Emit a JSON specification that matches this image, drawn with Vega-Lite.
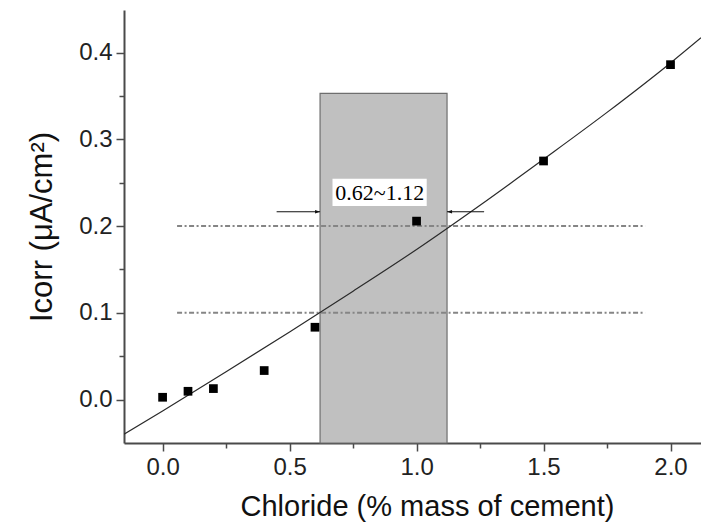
{
  "$schema": "https://vega.github.io/schema/vega-lite/v6.json",
  "autosize": {"type": "none"},
  "padding": {"left": 124, "top": 10, "right": 0, "bottom": 81},
  "width": 577,
  "height": 433,
  "background": "white",
  "config": {
    "view": {"stroke": null},
    "font": "Liberation Sans",
    "axis": {
      "domainColor": "#4a4a4a",
      "domainWidth": 2,
      "tickColor": "#4a4a4a",
      "tickWidth": 1.5,
      "labelFont": "Liberation Sans",
      "labelFontSize": 24,
      "labelColor": "#222222",
      "titleFont": "Liberation Sans",
      "titleFontWeight": "normal",
      "titleColor": "#111111",
      "grid": false
    }
  },
  "datasets": {
    "measured": [
      {"chloride": 0.0, "icorr": 0.0027},
      {"chloride": 0.1, "icorr": 0.0096},
      {"chloride": 0.2, "icorr": 0.0127},
      {"chloride": 0.4, "icorr": 0.0335},
      {"chloride": 0.6, "icorr": 0.0834},
      {"chloride": 1.0, "icorr": 0.2057},
      {"chloride": 1.5, "icorr": 0.275},
      {"chloride": 2.0, "icorr": 0.386}
    ],
    "fit": [
      {"chloride": -0.152, "icorr": -0.040},
      {"chloride": 0.0, "icorr": -0.013},
      {"chloride": 0.25, "icorr": 0.032},
      {"chloride": 0.5, "icorr": 0.078},
      {"chloride": 0.75, "icorr": 0.125},
      {"chloride": 1.0, "icorr": 0.173},
      {"chloride": 1.25, "icorr": 0.224},
      {"chloride": 1.5, "icorr": 0.277},
      {"chloride": 1.75, "icorr": 0.331},
      {"chloride": 2.0, "icorr": 0.388},
      {"chloride": 2.12, "icorr": 0.417}
    ]
  },
  "layer": [
    {
      "data": {"values": [{"lo": 0.62, "hi": 1.12, "bottom": -0.05, "top": 0.353}]},
      "mark": {"type": "rect", "fill": "#c0c0c0", "stroke": "#6e6e6e", "strokeWidth": 1.2},
      "encoding": {
        "x": {
          "field": "lo", "type": "quantitative",
          "scale": {"domain": [-0.152, 2.12], "nice": false, "zero": false},
          "axis": {
            "title": "Chloride (% mass of cement)",
            "titleFontSize": 29,
            "titleX": 303,
            "titlePadding": 13,
            "values": [0, 0.25, 0.5, 0.75, 1.0, 1.25, 1.5, 1.75, 2.0],
            "labelExpr": "datum.value % 0.5 === 0 ? format(datum.value, '.1f') : ''",
            "tickSize": {"condition": {"test": "datum.value % 0.5 === 0", "value": 8}, "value": 5},
            "labelPadding": 4,
            "labelFlush": false
          }
        },
        "x2": {"field": "hi"},
        "y": {
          "field": "bottom", "type": "quantitative",
          "scale": {"domain": [-0.05, 0.449], "nice": false, "zero": false},
          "axis": {
            "title": "Icorr  (μA/cm²)",
            "titleFontSize": 31,
            "titlePadding": 20,
            "values": [0, 0.05, 0.1, 0.15, 0.2, 0.25, 0.3, 0.35, 0.4],
            "labelExpr": "abs(datum.value * 10 - round(datum.value * 10)) < 0.001 ? format(datum.value, '.1f') : ''",
            "tickSize": {"condition": {"test": "abs(datum.value * 10 - round(datum.value * 10)) < 0.001", "value": 8}, "value": 5},
            "labelPadding": 4,
            "labelFlush": false
          }
        },
        "y2": {"field": "top"}
      }
    },
    {
      "data": {"values": [
        {"from": 0.057, "to": 1.9, "level": 0.1},
        {"from": 0.057, "to": 1.9, "level": 0.2}
      ]},
      "mark": {"type": "rule", "stroke": "#858585", "strokeWidth": 2, "strokeDash": [5, 2.5, 2, 2.5]},
      "encoding": {
        "x": {"field": "from", "type": "quantitative"},
        "x2": {"field": "to"},
        "y": {"field": "level", "type": "quantitative"}
      }
    },
    {
      "data": {"name": "fit"},
      "mark": {"type": "line", "stroke": "#2a2a2a", "strokeWidth": 1.2, "interpolate": "monotone", "clip": true},
      "encoding": {
        "x": {"field": "chloride", "type": "quantitative"},
        "y": {"field": "icorr", "type": "quantitative"}
      }
    },
    {
      "data": {"name": "measured"},
      "mark": {"type": "point", "shape": "square", "filled": true, "color": "#000000", "size": 76, "opacity": 1},
      "encoding": {
        "x": {"field": "chloride", "type": "quantitative"},
        "y": {"field": "icorr", "type": "quantitative"}
      }
    },
    {
      "data": {"values": [
        {"from": 0.449, "to": 0.62, "level": 0.2165},
        {"from": 1.266, "to": 1.12, "level": 0.2165}
      ]},
      "mark": {"type": "rule", "stroke": "#111111", "strokeWidth": 1.2},
      "encoding": {
        "x": {"field": "from", "type": "quantitative"},
        "x2": {"field": "to"},
        "y": {"field": "level", "type": "quantitative"}
      }
    },
    {
      "data": {"values": [
        {"tip": 0.62, "level": 0.2165, "side": "left"},
        {"tip": 1.12, "level": 0.2165, "side": "right"}
      ]},
      "mark": {"type": "point", "filled": true, "color": "#111111", "size": 100, "opacity": 1},
      "encoding": {
        "x": {"field": "tip", "type": "quantitative"},
        "y": {"field": "level", "type": "quantitative"},
        "shape": {
          "field": "side", "type": "nominal",
          "scale": {"domain": ["left", "right"], "range": ["M0,0L-1,-0.33L-1,0.33Z", "M0,0L1,-0.33L1,0.33Z"]},
          "legend": null
        }
      }
    },
    {
      "data": {"values": [{"lo": 0.669, "hi": 1.04, "bottom": 0.223, "top": 0.2546}]},
      "mark": {"type": "rect", "fill": "#ffffff"},
      "encoding": {
        "x": {"field": "lo", "type": "quantitative"},
        "x2": {"field": "hi"},
        "y": {"field": "bottom", "type": "quantitative"},
        "y2": {"field": "top"}
      }
    },
    {
      "data": {"values": [{"mid": 0.855, "level": 0.2385, "range": "0.62~1.12"}]},
      "mark": {"type": "text", "font": "Liberation Serif", "fontSize": 22, "color": "#000000", "align": "center", "baseline": "middle"},
      "encoding": {
        "x": {"field": "mid", "type": "quantitative"},
        "y": {"field": "level", "type": "quantitative"},
        "text": {"field": "range"}
      }
    },
    {
      "mark": {"type": "rule", "stroke": "#4a4a4a", "strokeWidth": 2},
      "encoding": {"y": {"datum": 0.449}}
    }
  ]
}
